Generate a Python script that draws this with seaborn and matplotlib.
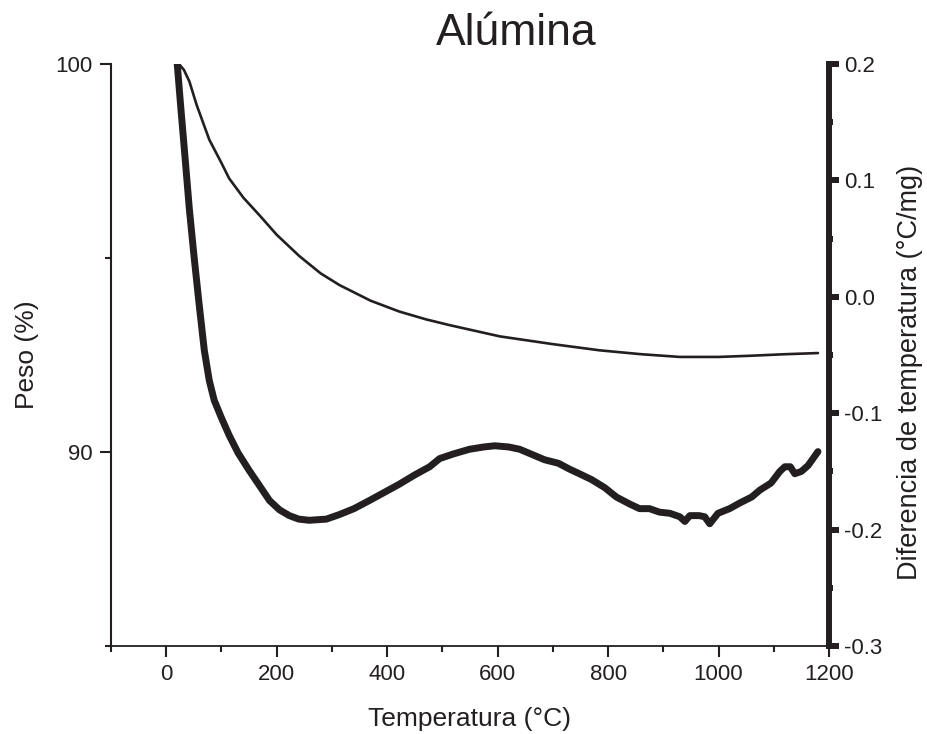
import numpy as np
import pandas as pd
import matplotlib
matplotlib.use("Agg")
import matplotlib.pyplot as plt
import seaborn as sns
from matplotlib.ticker import MultipleLocator

# TG curve (weight %, left axis)
tg_temp = [23, 32, 42, 55, 78, 100, 114, 140, 169, 200, 241, 280, 314, 370, 422, 470,
           513, 560, 604, 700, 785, 860, 930, 1000, 1057, 1120, 1180]
tg_peso = [100.0, 99.85, 99.55, 98.95, 98.05, 97.45, 97.05, 96.55, 96.1, 95.6, 95.05,
           94.6, 94.3, 93.9, 93.62, 93.42, 93.27, 93.12, 92.98, 92.78, 92.62, 92.52,
           92.45, 92.45, 92.48, 92.52, 92.55]

# DTA curve (temperature difference, right axis)
dta_temp = [20, 26, 33, 42, 51, 60, 69, 78, 87, 100, 114, 130, 150, 170, 187, 205, 223,
            240, 259, 290, 314, 340, 368, 395, 422, 450, 477, 495, 520, 549, 575, 595,
            620, 640, 665, 685, 710, 730, 748, 770, 794, 815, 839, 857, 875, 893, 912,
            930, 939, 948, 965, 975, 984, 999, 1020, 1039, 1060, 1075, 1095, 1111, 1120,
            1130, 1138, 1150, 1162, 1180]
dta_dif = [0.2, 0.165, 0.126, 0.075, 0.032, -0.008, -0.046, -0.072, -0.089, -0.104,
           -0.119, -0.134, -0.149, -0.163, -0.175, -0.183, -0.188, -0.191, -0.192,
           -0.191, -0.187, -0.182, -0.175, -0.168, -0.161, -0.153, -0.146, -0.139,
           -0.135, -0.131, -0.129, -0.128, -0.129, -0.131, -0.136, -0.140, -0.143,
           -0.148, -0.152, -0.157, -0.164, -0.172, -0.178, -0.182, -0.182, -0.185,
           -0.186, -0.189, -0.193, -0.188, -0.188, -0.189, -0.195, -0.186, -0.182,
           -0.177, -0.172, -0.166, -0.160, -0.150, -0.146, -0.146, -0.152, -0.150,
           -0.145, -0.133]

tg = pd.DataFrame({"temp": tg_temp, "peso": tg_peso})
dta = pd.DataFrame({"temp": dta_temp, "dif": dta_dif})

sns.set_theme(style="ticks")
plt.rcParams["font.family"] = ["Liberation Sans", "DejaVu Sans"]
plt.rcParams["axes.unicode_minus"] = False

ink = "#231f20"
fig = plt.figure(figsize=(9.27, 7.34), dpi=100)
ax = fig.add_axes([0.1197, 0.1199, 0.7746, 0.7929])
ax2 = ax.twinx()

sns.lineplot(data=tg, x="temp", y="peso", ax=ax, color=ink, linewidth=1.9)
sns.lineplot(data=dta, x="temp", y="dif", ax=ax2, color=ink, linewidth=5.0)

ax.set_xlim(-100, 1200)
ax.set_ylim(85, 100)
ax2.set_ylim(-0.3, 0.2)

ax.xaxis.set_major_locator(MultipleLocator(200))
ax.xaxis.set_minor_locator(MultipleLocator(100))
ax.yaxis.set_major_locator(MultipleLocator(10))
ax.yaxis.set_minor_locator(MultipleLocator(5))
ax2.yaxis.set_major_locator(MultipleLocator(0.1))
ax2.yaxis.set_minor_locator(MultipleLocator(0.05))
ax2.yaxis.set_major_formatter(matplotlib.ticker.FuncFormatter(lambda v, p: f"{v:.1f}"))

for s in ["top", "right"]:
    ax.spines[s].set_visible(False)
for s in ["top", "left", "bottom"]:
    ax2.spines[s].set_visible(False)
ax.spines["left"].set_linewidth(1.5)
ax.spines["bottom"].set_linewidth(1.3)
ax.spines["left"].set_color(ink)
ax.spines["bottom"].set_color(ink)
ax2.spines["right"].set_linewidth(4.3)
ax2.spines["right"].set_color(ink)

ax.tick_params(axis="both", which="major", length=8, width=1.5, color=ink,
               labelsize=16, labelcolor=ink, direction="out", pad=5)
ax.tick_params(axis="both", which="minor", length=4, width=1.5, color=ink, direction="out")
ax2.tick_params(axis="y", which="major", length=7, width=4.3, color=ink,
                labelsize=16, labelcolor=ink, direction="out", pad=4)
ax2.tick_params(axis="y", which="minor", length=3, width=4.3, color=ink, direction="out")

ax.set_xlabel("Temperatura (°C)", fontsize=19, color=ink)
ax.set_ylabel("Peso (%)", fontsize=19, color=ink)
ax2.set_ylabel("Diferencia de temperatura (°C/mg)", fontsize=19.5, color=ink)
ax.xaxis.set_label_coords(0.5, -0.105)
ax.yaxis.set_label_coords(-0.10, 0.5)
ax2.yaxis.set_label_coords(1.095, 0.47)
ax.set_title("Alúmina", fontsize=32, color=ink, x=0.565, pad=14)

fig.savefig("out.png", dpi=100)
